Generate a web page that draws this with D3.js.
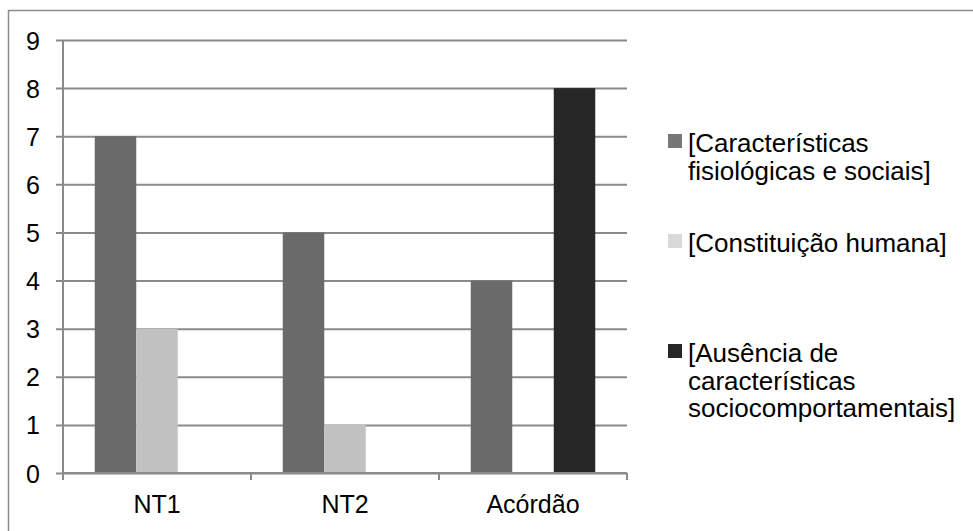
<!DOCTYPE html>
<html>
<head>
<meta charset="utf-8">
<script src="https://cdn.jsdelivr.net/npm/d3@7"></script>
<style>
  html, body { margin: 0; padding: 0; background: #ffffff; }
  svg { display: block; }
  text { font-family: "Liberation Sans", Arial, sans-serif; fill: #000; }
</style>
</head>
<body>
<svg id="chart" width="973" height="531"></svg>
<script>
const categories = ["NT1", "NT2", "Acórdão"];
const seriesNames = [
  ["[Características", "fisiológicas e sociais]"],
  ["[Constituição humana]"],
  ["[Ausência de", "características", "sociocomportamentais]"]
];
const seriesFisiologicas = [7, 5, 4];
const seriesConstituicao = [3, 1, 0];
const seriesAusencia = [0, 0, 8];
const yTicks = [0, 1, 2, 3, 4, 5, 6, 7, 8, 9];

(function () {
const barColors = ["#6a6a6a", "#c1c1c1", "#272727"];
const legendColors = ["#777777", "#d9d9d9", "#262626"];
const allSeries = [seriesFisiologicas, seriesConstituicao, seriesAusencia];

const svg = d3.select("#chart");

// outer chart border (right and bottom edges fall outside the picture)
svg.append("rect")
  .attr("x", 8.5).attr("y", 10.5)
  .attr("width", 980).attr("height", 540)
  .attr("fill", "none").attr("stroke", "#8c8c8c").attr("stroke-width", 1.5);

const pLeft = 63, pRight = 627, pTop = 40, pBottom = 473;

const x0 = d3.scaleBand().domain(categories).range([pLeft, pRight]).paddingInner(0).paddingOuter(0);
const groupPad = 31.75;
const x1 = d3.scaleBand().domain([0, 1, 2]).range([groupPad, x0.bandwidth() - groupPad]).padding(0);
const y = d3.scaleLinear().domain([0, 9]).range([pBottom, pTop]);

// gridlines + y axis
const yAxis = d3.axisLeft(y).tickValues(yTicks).tickSize(0).tickPadding(0);
const gy = svg.append("g").attr("transform", `translate(${pLeft},0)`).call(yAxis);
gy.select(".domain").remove();
gy.selectAll(".tick line").remove();
gy.selectAll(".tick").append("line")
  .attr("x1", -7).attr("x2", pRight - pLeft)
  .attr("stroke", "#8a8a8a").attr("stroke-width", 2);
gy.selectAll(".tick text")
  .attr("x", -23).attr("dy", null).attr("y", 9)
  .attr("text-anchor", "end")
  .style("font-size", "25px")
  .style("font-family", "'Liberation Sans', Arial, sans-serif")
  .attr("fill", "#000");

// bars
const rows = categories.map((c, i) => ({ cat: c, vals: allSeries.map(s => s[i]) }));
const g = svg.append("g");
rows.forEach(r => {
  g.selectAll(null)
    .data(r.vals.map((v, si) => ({ v, si })).filter(d => d.v > 0))
    .enter().append("rect")
    .attr("x", d => x0(r.cat) + x1(d.si))
    .attr("width", x1.bandwidth())
    .attr("y", d => y(d.v))
    .attr("height", d => y(0) - y(d.v))
    .attr("fill", d => barColors[d.si]);
});

// vertical axis line
svg.append("line")
  .attr("x1", pLeft).attr("x2", pLeft)
  .attr("y1", pTop).attr("y2", pBottom)
  .attr("stroke", "#8a8a8a").attr("stroke-width", 2);

// x axis
const xAxis = d3.axisBottom(x0).tickSize(0).tickPadding(0);
const gx = svg.append("g").attr("transform", `translate(0,${pBottom})`).call(xAxis);
gx.select(".domain").remove();
gx.selectAll(".tick line").remove();
gx.selectAll(".tick text")
  .attr("y", 40).attr("dy", null)
  .style("font-size", "25px")
  .style("font-family", "'Liberation Sans', Arial, sans-serif")
  .attr("fill", "#000");
gx.append("line")
  .attr("x1", pLeft).attr("x2", pRight)
  .attr("stroke", "#8a8a8a").attr("stroke-width", 2);
const boundaries = categories.map(c => x0(c)).concat([pRight]);
gx.selectAll(".bound").data(boundaries).enter().append("line")
  .attr("x1", d => d).attr("x2", d => d)
  .attr("y1", 0).attr("y2", 7)
  .attr("stroke", "#8a8a8a").attr("stroke-width", 2);

// legend
const legendBase = [152, 252, 362];
const lineH = 27.5;
const lg = svg.append("g");
seriesNames.forEach((lines, i) => {
  lg.append("rect")
    .attr("x", 668).attr("y", legendBase[i] - 18)
    .attr("width", 14).attr("height", 14)
    .attr("fill", legendColors[i]);
  const t = lg.append("text")
    .attr("x", 688).attr("y", legendBase[i])
    .style("font-size", "26px");
  lines.forEach((ln, j) => {
    t.append("tspan").attr("x", 688).attr("y", legendBase[i] + j * lineH).text(ln);
  });
});
})();
</script>
</body>
</html>
